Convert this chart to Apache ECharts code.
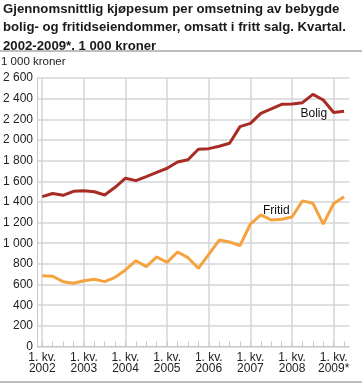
<!DOCTYPE html>
<html>
<head>
<meta charset="utf-8">
<script src="https://cdn.jsdelivr.net/npm/echarts@6/dist/echarts.min.js"></script>
<style>
html,body{margin:0;padding:0;background:#fff;}
#chart{width:362px;height:383px;}
</style>
</head>
<body>
<div id="chart"></div>
<script>
const categories = [
  '2002K1','2002K2','2002K3','2002K4',
  '2003K1','2003K2','2003K3','2003K4',
  '2004K1','2004K2','2004K3','2004K4',
  '2005K1','2005K2','2005K3','2005K4',
  '2006K1','2006K2','2006K3','2006K4',
  '2007K1','2007K2','2007K3','2007K4',
  '2008K1','2008K2','2008K3','2008K4',
  '2009K1','2009K2'
];
const yearLabels = ['2002','2003','2004','2005','2006','2007','2008','2009*'];
const bolig = [1451,1482,1464,1503, 1509,1498,1467,1542, 1630,1606,1645,1687,
  1726,1786,1809,1910, 1916,1939,1968,2129, 2161,2258,2300,2345,
  2348,2361,2442,2387, 2266,2278];
const fritid = [686,680,628,612, 637,651,628,670, 741,831,773,867,
  815,915,860,757, 893,1031,1012,976, 1186,1274,1225,1232,
  1254,1410,1387,1185, 1385,1451];
const yTicks = {min:0, max:2600, interval:200};
const titleText = 'Gjennomsnittlig kjøpesum per omsetning av bebygde\nbolig- og fritidseiendommer, omsatt i fritt salg. Kvartal.\n2002-2009*. 1 000 kroner';
const unitText = '1 000 kroner';

const FONT = '"Liberation Sans", Arial, sans-serif';
const chart = echarts.init(document.getElementById('chart'), null, {renderer:'canvas'});

function fmtNum(v){
  return String(v).replace(/\B(?=(\d{3})+(?!\d))/g, ' ');
}

const labelStyle = {color:'#111', fontSize:12, fontFamily:FONT};
const boligData = bolig.map((v,i)=> i===26
  ? {value:v, symbolSize:1, label:Object.assign({show:true, formatter:'Bolig', position:'bottom', distance:4, offset:[1,9]}, labelStyle)}
  : {value:v, symbolSize:0});
const fritidData = fritid.map((v,i)=> i===22
  ? {value:v, symbolSize:1, label:Object.assign({show:true, formatter:'Fritid', position:'top', distance:3, offset:[5,0]}, labelStyle)}
  : {value:v, symbolSize:0});

chart.setOption({
  animation:false,
  backgroundColor:'#fff',
  title:[
    {text:titleText, left:3, top:0.5, padding:0,
     textStyle:{fontFamily:FONT, fontWeight:'bold', fontSize:13.2, lineHeight:18.2, color:'#1a1a1a'}},
    {text:unitText, left:1, top:55.5, padding:0,
     textStyle:{fontFamily:FONT, fontWeight:'normal', fontSize:11.5, color:'#222'}}
  ],
  graphic:[
    {type:'line', shape:{x1:0,y1:51,x2:362,y2:51}, style:{stroke:'#a8a8a8', lineWidth:1.5}},
    {type:'line', shape:{x1:0,y1:382,x2:362,y2:382}, style:{stroke:'#a8a8a8', lineWidth:1.5}}
  ],
  grid:{left:36.5, right:12.7, top:78, bottom:36.5, containLabel:false},
  xAxis:{
    type:'category', data:categories, boundaryGap:true,
    axisLine:{show:true, lineStyle:{color:'#c8c8cc', width:1}},
    axisTick:{show:true, inside:true, length:5, interval:0, alignWithLabel:true, lineStyle:{color:'#c8c8cc'}},
    splitLine:{show:true, interval:3, alignWithLabel:true, lineStyle:{color:'#d6d6da', width:1.5}},
    axisLabel:{
      interval:3, margin:6, color:'#222', fontFamily:FONT, fontSize:12, lineHeight:11,
      formatter:(val, idx)=> '1. kv.\n' + yearLabels[Math.floor(idx/4)]
    }
  },
  yAxis:{
    type:'value', min:yTicks.min, max:yTicks.max, interval:yTicks.interval,
    axisLine:{show:true, lineStyle:{color:'#c8c8cc', width:1}},
    axisTick:{show:false},
    splitLine:{show:true, lineStyle:{color:'#d6d6da', width:1.5}},
    axisLabel:{margin:4, color:'#222', fontFamily:FONT, fontSize:12, formatter:fmtNum}
  },
  series:[
    {name:'Bolig', type:'line', data:boligData, symbol:'circle', showSymbol:true,
     lineStyle:{color:'#a82c24', width:3}, itemStyle:{color:'#a82c24'}, z:3},
    {name:'Fritid', type:'line', data:fritidData, symbol:'circle', showSymbol:true,
     lineStyle:{color:'#f5a33e', width:3}, itemStyle:{color:'#f5a33e'}, z:2}
  ]
});
</script>
</body>
</html>
